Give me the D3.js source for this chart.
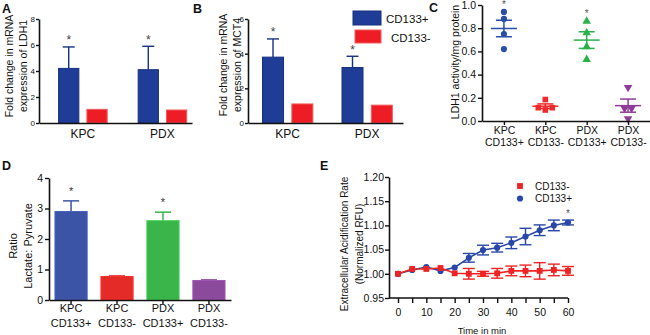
<!DOCTYPE html>
<html>
<head>
<meta charset="utf-8">
<script src="https://cdn.jsdelivr.net/npm/d3@7"></script>
<style>
  body { margin: 0; background: #fff; }
  svg { font-family: "Liberation Sans", Arial, sans-serif; }
</style>
</head>
<body>
<svg id="fig" width="650" height="335"></svg>
<script>
// ---- data ----
var groups = ['KPC', 'PDX'];
var cellTypes = ['CD133+', 'CD133-'];

// A: LDH1 mRNA fold change
var ldh1Plus = [4.2, 4.1];
var ldh1PlusErr = [1.65, 1.8];
var ldh1Minus = [1.05, 1.0];

// B: MCT4 mRNA fold change
var mct4Plus = [3.8, 3.2];
var mct4PlusErr = [1.05, 0.65];
var mct4Minus = [1.1, 1.03];

// C: LDH1 activity, individual replicates
var catTop = ['KPC', 'KPC', 'PDX', 'PDX'];
var catBottom = ['CD133+', 'CD133-', 'CD133+', 'CD133-'];
var actKpcPlus = [0.94, 0.88, 0.75, 0.62];
var actKpcMinus = [0.115, 0.185, 0.095, 0.115];
var actPdxPlus = [0.86, 0.76, 0.64, 0.53];
var actPdxMinus = [0.29, 0.11, 0.11, 0.02];
var actSig = [true, false, true, false];

// D: lactate : pyruvate ratio
var lactRatio = [2.9, 0.77, 2.6, 0.64];
var lactErr = [0.35, 0.02, 0.28, 0.02];
var lactSig = [true, false, true, false];

// E: ECAR time course
var timeMin = [0, 5, 10, 15, 20, 25, 30, 35, 40, 45, 50, 55, 60];
var ecarPlus = [1.000, 1.008, 1.014, 1.006, 1.013, 1.033, 1.049, 1.054, 1.064, 1.077, 1.090, 1.100, 1.106];
var ecarPlusErr = [0, 0.002, 0.002, 0.002, 0.002, 0.009, 0.010, 0.009, 0.012, 0.017, 0.011, 0.011, 0.005];
var ecarMinus = [1.000, 1.010, 1.010, 1.012, 1.001, 1.000, 1.000, 1.001, 1.006, 1.006, 1.006, 1.008, 1.006];
var ecarMinusErr = [0, 0.002, 0.002, 0.002, 0.002, 0.011, 0.005, 0.010, 0.010, 0.012, 0.017, 0.012, 0.009];

var svg = d3.select('#fig');
var INK = '#111';

// ---- helpers ----
function styleAxis(g, fs) {
    g.attr('font-family', null).attr('font-size', fs);
    g.selectAll('.domain').attr('stroke', INK).attr('stroke-width', 1.6);
    g.selectAll('.tick line').attr('stroke', INK).attr('stroke-width', 1.4);
    g.selectAll('.tick text').attr('fill', INK);
}

function yTitle(lines, xs, cy, fs) {
    lines.forEach(function (t, i) {
        svg.append('text')
            .attr('transform', `translate(${xs[i]},${cy}) rotate(-90)`)
            .attr('text-anchor', 'middle')
            .attr('dy', '0.35em')
            .attr('font-size', fs)
            .attr('fill', INK)
            .text(t);
    });
}

function panelLetter(t, x, y) {
    svg.append('text').attr('x', x).attr('y', y)
        .attr('font-size', 12.5).attr('font-weight', 'bold')
        .attr('fill', INK).text(t);
}

function star(x, yc, fs, color) {
    svg.append('text').attr('x', x).attr('y', yc)
        .attr('dy', '0.62em')
        .attr('text-anchor', 'middle')
        .attr('font-size', fs)
        .attr('fill', color || '#444')
        .text('*');
}

function twoLineTicks(axisG, top, bottom, gap) {
    axisG.selectAll('.tick text').each(function (d, i) {
        var t = d3.select(this).attr('dy', null).text(null);
        t.append('tspan').attr('x', 0).attr('dy', '0.71em').text(top[i]);
        t.append('tspan').attr('x', 0).attr('dy', gap).text(bottom[i]);
    });
}

// ---- A & B : grouped bars ----
function foldPanel(o) {
    var x0 = d3.scaleBand().domain(groups)
        .range([o.left, o.right])
        .paddingInner(o.pi).paddingOuter(o.po).align(o.align);
    var x1 = d3.scaleBand().domain(cellTypes)
        .range([0, x0.bandwidth()]).paddingInner(0.25);
    var y = d3.scaleLinear().domain([0, o.max]).range([o.bottom, o.top]);

    var rows = [];
    groups.forEach(function (g, i) {
        rows.push({ g: g, t: 'CD133+', v: o.plus[i], e: o.plusErr[i] });
        rows.push({ g: g, t: 'CD133-', v: o.minus[i], e: 0 });
    });

    var root = svg.append('g');
    var cx = function (d) { return x0(d.g) + x1(d.t) + x1.bandwidth() / 2; };

    // upper error bars
    var eb = rows.filter(function (d) { return d.e > 0; });
    root.selectAll('line.err').data(eb).join('line')
        .attr('x1', cx).attr('x2', cx)
        .attr('y1', function (d) { return y(d.v); })
        .attr('y2', function (d) { return y(d.v + d.e); })
        .attr('stroke', o.blueEdge).attr('stroke-width', 1.4);
    root.selectAll('line.cap').data(eb).join('line')
        .attr('x1', function (d) { return cx(d) - 6; })
        .attr('x2', function (d) { return cx(d) + 6; })
        .attr('y1', function (d) { return y(d.v + d.e); })
        .attr('y2', function (d) { return y(d.v + d.e); })
        .attr('stroke', o.blueEdge).attr('stroke-width', 1.4);

    root.selectAll('rect').data(rows).join('rect')
        .attr('x', function (d) { return x0(d.g) + x1(d.t) + 0.5; })
        .attr('y', function (d) { return y(d.v); })
        .attr('width', x1.bandwidth() - 1)
        .attr('height', function (d) { return y(0) - y(d.v); })
        .attr('fill', function (d) { return d.t === 'CD133+' ? o.blue : '#ee1d25'; })
        .attr('stroke', function (d) { return d.t === 'CD133+' ? o.blueEdge : '#f25a5a'; })
        .attr('stroke-width', 1);

    eb.forEach(function (d) { star(cx(d), y(d.v + d.e) - 10, 12, '#444'); });

    var ya = svg.append('g').attr('transform', `translate(${o.left},0)`)
        .call(d3.axisLeft(y).tickValues(o.ticks).tickFormat(d3.format('d'))
            .tickSize(3).tickPadding(1).tickSizeOuter(0));
    styleAxis(ya, 8);
    var xa = svg.append('g').attr('transform', `translate(0,${o.bottom})`)
        .call(d3.axisBottom(x0).tickSize(0).tickPadding(6).tickSizeOuter(0));
    styleAxis(xa, 12);
}

foldPanel({
    left: 39, right: 192, top: 19, bottom: 123, max: 8, ticks: [0, 2, 4, 6, 8],
    pi: 0.377, po: 0.15, align: 0.8,
    plus: ldh1Plus, plusErr: ldh1PlusErr, minus: ldh1Minus,
    blue: '#1f3d96', blueEdge: '#17307f'
});
yTitle(['Fold change in mRNA', 'expression of  LDH1'], [9, 23], 66, 10.5);
panelLetter('A', 2, 13);

foldPanel({
    left: 248, right: 403, top: 19, bottom: 123, max: 6, ticks: [0, 2, 4, 6],
    pi: 0.354, po: 0.152, align: 0.58,
    plus: mct4Plus, plusErr: mct4PlusErr, minus: mct4Minus,
    blue: '#1f3d96', blueEdge: '#17307f'
});
yTitle(['Fold change in mRNA', 'expression of  MCT4'], [223, 237], 65, 10.5);
panelLetter('B', 193, 13);

// legend for A/B
var legB = svg.append('g');
legB.append('rect').attr('x', 353).attr('y', 11).attr('width', 28).attr('height', 14)
    .attr('fill', '#1f3d96').attr('stroke', '#17307f');
legB.append('rect').attr('x', 355).attr('y', 30).attr('width', 26).attr('height', 13)
    .attr('fill', '#ee1d25').attr('stroke', '#f25a5a');
legB.append('text').attr('x', 386).attr('y', 23).attr('font-size', 11.5).attr('fill', INK).text(cellTypes[0]);
legB.append('text').attr('x', 391).attr('y', 42).attr('font-size', 11.5).attr('fill', INK).text(cellTypes[1]);

// ---- C : scatter with mean +/- SEM ----
(function () {
    var sets = [actKpcPlus, actKpcMinus, actPdxPlus, actPdxMinus];
    var cols = ['#2a4ea6', '#ee2a2a', '#2bb04a', '#8e3c98'];
    var shapes = [d3.symbolCircle, d3.symbolSquare, d3.symbolTriangle, d3.symbolTriangle];
    var flip = [0, 0, 0, 180];

    var x = d3.scalePoint().domain(d3.range(4)).range([482, 650]).padding(0.53);
    var y = d3.scaleLinear().domain([0, 1]).range([121, 5]);

    var root = svg.append('g');
    sets.forEach(function (vals, i) {
        // spread replicates that sit on (nearly) the same value
        var clusters = [];
        vals.forEach(function (v, j) {
            var c = clusters.find(function (cl) { return Math.abs(vals[cl[0]] - v) < 0.03; });
            if (c) c.push(j); else clusters.push([j]);
        });
        var pts = [];
        clusters.forEach(function (cl) {
            cl.forEach(function (j, k) {
                pts.push({ v: vals[j], dx: (k - (cl.length - 1) / 2) * 7 });
            });
        });

        var m = d3.mean(vals);
        var sem = d3.deviation(vals) / Math.sqrt(vals.length);
        var cx = x(i);

        root.selectAll(null).data(pts).join('path')
            .attr('transform', function (d) { return `translate(${cx + d.dx},${y(d.v)}) rotate(${flip[i]})`; })
            .attr('d', d3.symbol().type(shapes[i]).size(i === 0 ? 30 : 32))
            .attr('fill', cols[i]);

        var s = root.append('g').attr('stroke', cols[i]).attr('stroke-width', 1.5);
        s.append('line').attr('x1', cx - 13).attr('x2', cx + 13).attr('y1', y(m)).attr('y2', y(m));
        s.append('line').attr('x1', cx).attr('x2', cx).attr('y1', y(m - sem)).attr('y2', y(m + sem));
        [m - sem, m + sem].forEach(function (v) {
            s.append('line').attr('x1', cx - 8).attr('x2', cx + 8).attr('y1', y(v)).attr('y2', y(v));
        });

        if (actSig[i]) star(cx, y(d3.max(vals) + 0.09), 10, '#555');
    });

    var ya = svg.append('g').attr('transform', 'translate(482,0)')
        .call(d3.axisLeft(y).tickValues([0, 0.2, 0.4, 0.6, 0.8, 1.0]).tickFormat(d3.format('.1f'))
            .tickSize(4).tickPadding(2).tickSizeOuter(0));
    styleAxis(ya, 10.5);
    var xa = svg.append('g').attr('transform', 'translate(0,121)')
        .call(d3.axisBottom(x).tickSize(4).tickPadding(2).tickSizeOuter(0));
    styleAxis(xa, 10.5);
    twoLineTicks(xa, catTop, catBottom, 12);
})();
yTitle(['LDH1 activity/mg protein'], [455], 62, 10.5);
panelLetter('C', 429, 12);

// ---- D : lactate / pyruvate bars ----
(function () {
    var cols = ['#3b54a5', '#e52b27', '#3ab54a', '#8b4a9c'];
    var x = d3.scaleBand().domain(d3.range(4)).range([49, 231]).paddingInner(0.3).paddingOuter(0.13);
    var y = d3.scaleLinear().domain([0, 4]).range([300, 178]);
    var root = svg.append('g');

    lactRatio.forEach(function (v, i) {
        var cx = x(i) + x.bandwidth() / 2;
        var top = y(v + lactErr[i]);
        root.append('line').attr('x1', cx).attr('x2', cx).attr('y1', y(v)).attr('y2', top)
            .attr('stroke', cols[i]).attr('stroke-width', 1.5);
        root.append('line').attr('x1', cx - 8).attr('x2', cx + 8).attr('y1', top).attr('y2', top)
            .attr('stroke', cols[i]).attr('stroke-width', 1.5);
        root.append('rect').attr('x', x(i)).attr('y', y(v))
            .attr('width', x.bandwidth()).attr('height', y(0) - y(v))
            .attr('fill', cols[i]).attr('stroke', d3.color(cols[i]).brighter(0.4)).attr('stroke-width', 1);
        if (lactSig[i]) star(cx, top - 13, 11, '#333');
    });

    var ya = svg.append('g').attr('transform', 'translate(49,0)')
        .call(d3.axisLeft(y).tickValues([0, 1, 2, 3, 4]).tickFormat(d3.format('d'))
            .tickSize(4).tickPadding(2).tickSizeOuter(0));
    styleAxis(ya, 10.5);
    var xa = svg.append('g').attr('transform', 'translate(0,300)')
        .call(d3.axisBottom(x).tickSize(4).tickPadding(0).tickSizeOuter(0));
    styleAxis(xa, 11);
    twoLineTicks(xa, catTop, catBottom, 15);
})();
yTitle(['Ratio', 'Lactate: Pyruvate'], [13, 28], 246, 11);
panelLetter('D', 2, 170);

// ---- E : ECAR time course ----
(function () {
    var x = d3.scaleLinear().domain([0, 60]).range([398, 568]);
    var y = d3.scaleLinear().domain([0.95, 1.2]).range([298, 177]);
    var axisX = 389;
    var root = svg.append('g');

    var series = [
        { name: 'CD133+', vals: ecarPlus, err: ecarPlusErr, col: '#2847a8', shape: d3.symbolCircle, size: 30 },
        { name: 'CD133-', vals: ecarMinus, err: ecarMinusErr, col: '#ee2424', shape: d3.symbolSquare, size: 34 }
    ];

    series.forEach(function (s) {
        var pts = timeMin.map(function (t, i) { return { t: t, v: s.vals[i], e: s.err[i] }; });
        var g = root.append('g');
        g.append('path').datum(pts)
            .attr('d', d3.line().x(function (d) { return x(d.t); }).y(function (d) { return y(d.v); }))
            .attr('fill', 'none').attr('stroke', s.col).attr('stroke-width', 1.6);
        var eb = g.append('g').attr('stroke', s.col).attr('stroke-width', 1.4);
        eb.selectAll('line.v').data(pts).join('line')
            .attr('x1', function (d) { return x(d.t); }).attr('x2', function (d) { return x(d.t); })
            .attr('y1', function (d) { return y(d.v - d.e); }).attr('y2', function (d) { return y(d.v + d.e); });
        [-1, 1].forEach(function (sgn) {
            eb.selectAll(null).data(pts.filter(function (d) { return d.e > 0.004; })).join('line')
                .attr('x1', function (d) { return x(d.t) - 6; }).attr('x2', function (d) { return x(d.t) + 6; })
                .attr('y1', function (d) { return y(d.v + sgn * d.e); }).attr('y2', function (d) { return y(d.v + sgn * d.e); });
        });
        g.selectAll('path.pt').data(pts).join('path')
            .attr('transform', function (d) { return `translate(${x(d.t)},${y(d.v)})`; })
            .attr('d', d3.symbol().type(s.shape).size(s.size))
            .attr('fill', s.col);
    });

    var last = timeMin.length - 1;
    star(x(timeMin[last]), y(ecarPlus[last] + ecarPlusErr[last]) - 9, 10, '#555');

    var ya = svg.append('g').attr('transform', `translate(${axisX},0)`)
        .call(d3.axisLeft(y).tickValues(d3.range(0.95, 1.2001, 0.05)).tickFormat(d3.format('.2f'))
            .tickSize(4).tickPadding(1).tickSizeOuter(0));
    styleAxis(ya, 10.5);
    var xa = svg.append('g').attr('transform', 'translate(0,298)')
        .call(d3.axisBottom(x).tickValues(timeMin)
            .tickFormat(function (d) { return d % 10 === 0 ? d : ''; })
            .tickSize(5).tickPadding(6).tickSizeOuter(0));
    xa.select('.domain').attr('d', `M${axisX},0H${x(60)}`);
    styleAxis(xa, 10.5);

    svg.append('text').attr('x', 482).attr('y', 334).attr('text-anchor', 'middle')
        .attr('font-size', 9.5).attr('fill', INK).text('Time in min');

    // legend (CD133- listed first)
    var leg = svg.append('g');
    [series[1], series[0]].forEach(function (s, i) {
        leg.append('path').attr('transform', `translate(520,${186 + i * 12.5})`)
            .attr('d', d3.symbol().type(s.shape).size(s.size)).attr('fill', s.col);
        leg.append('text').attr('x', 535).attr('y', 186 + i * 12.5).attr('dy', '0.35em')
            .attr('font-size', 10).attr('fill', INK).text(s.name);
    });
})();
yTitle(['Extracellular Acidification Rate', '(Normalized RFU)'], [344, 359], 244, 10);
panelLetter('E', 320, 170);
</script>
</body>
</html>
